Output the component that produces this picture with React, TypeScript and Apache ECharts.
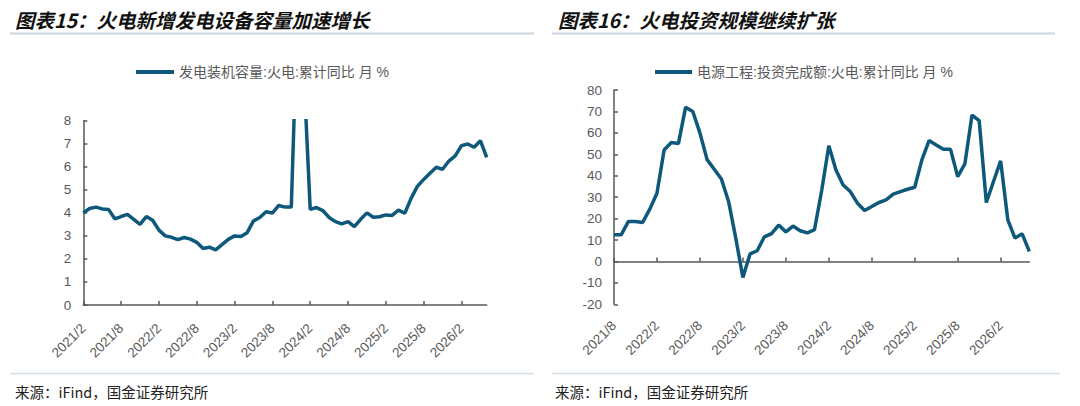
import React, { useEffect, useRef } from "react";
import * as echarts from "echarts";

const leftTitle = "图表15：火电新增发电设备容量加速增长";
const rightTitle = "图表16：火电投资规模继续扩张";
const sourceText = "来源：iFind，国金证券研究所";

const leftSeriesName = "发电装机容量:火电:累计同比 月 %";
const rightSeriesName = "电源工程:投资完成额:火电:累计同比 月 %";

const leftCategories: string[] = [
  "2021/2", "2021/3", "2021/4", "2021/5", "2021/6", "2021/7", "2021/8", "2021/9", "2021/10", "2021/11", "2021/12",
  "2022/1", "2022/2", "2022/3", "2022/4", "2022/5", "2022/6", "2022/7", "2022/8", "2022/9", "2022/10", "2022/11", "2022/12",
  "2023/1", "2023/2", "2023/3", "2023/4", "2023/5", "2023/6", "2023/7", "2023/8", "2023/9", "2023/10", "2023/11", "2023/12",
  "2024/1", "2024/2", "2024/3", "2024/4", "2024/5", "2024/6", "2024/7", "2024/8", "2024/9", "2024/10", "2024/11", "2024/12",
  "2025/1", "2025/2", "2025/3", "2025/4", "2025/5", "2025/6", "2025/7", "2025/8", "2025/9", "2025/10", "2025/11", "2025/12",
  "2026/1", "2026/2", "2026/3", "2026/4", "2026/5", "2026/6",
];

const leftValues: number[] = [
  4.0, 4.19, 4.25, 4.17, 4.15, 3.74, 3.84, 3.93, 3.72, 3.5,
  3.84, 3.68, 3.25, 3.0, 2.94, 2.84, 2.93, 2.86, 2.72, 2.45,
  2.51, 2.39, 2.62, 2.85, 3.0, 2.97, 3.14, 3.65, 3.8, 4.05,
  3.99, 4.32, 4.25, 4.25, 13, 10, 4.15, 4.23, 4.1, 3.8,
  3.62, 3.52, 3.62, 3.4, 3.72, 4.0, 3.81, 3.83, 3.91, 3.89,
  4.12, 3.98, 4.63, 5.15, 5.45, 5.72, 5.98, 5.89, 6.25, 6.47,
  6.92, 6.99, 6.85, 7.13, 6.41,
];

const rightCategories: string[] = [
  "2021/8", "2021/9", "2021/10", "2021/11", "2021/12",
  "2022/1", "2022/2", "2022/3", "2022/4", "2022/5", "2022/6", "2022/7", "2022/8", "2022/9", "2022/10", "2022/11", "2022/12",
  "2023/1", "2023/2", "2023/3", "2023/4", "2023/5", "2023/6", "2023/7", "2023/8", "2023/9", "2023/10", "2023/11", "2023/12",
  "2024/1", "2024/2", "2024/3", "2024/4", "2024/5", "2024/6", "2024/7", "2024/8", "2024/9", "2024/10", "2024/11", "2024/12",
  "2025/1", "2025/2", "2025/3", "2025/4", "2025/5", "2025/6", "2025/7", "2025/8", "2025/9", "2025/10", "2025/11", "2025/12",
  "2026/1", "2026/2", "2026/3", "2026/4", "2026/5", "2026/6",
];

const rightValues: number[] = [
  12.4, 12.4, 18.6, 18.6, 18.2, 24.4, 31.8, 52, 55.5, 55,
  72, 70, 60, 47.5, 43, 38.5, 28, 11, -7.5, 3.5,
  5, 11.5, 13, 17, 13.8, 16.5, 14.3, 13.3, 14.8, 33,
  54, 42.7, 35.7, 32.6, 27.2, 23.8, 25.6, 27.5, 28.7, 31.4,
  32.6, 33.7, 34.6, 47.4, 56.4, 54.3, 52.3, 52.3, 39.6, 45.5,
  68.3, 65.7, 27.5, 37.3, 46.9, 19.4, 10.9, 12.9, 4.7,
];

const LINE_COLOR = "#0d587b";
const AXIS_COLOR = "#595959";
const LABEL_COLOR = "#595959";
const FONT = "'Liberation Sans', 'Noto Sans CJK SC', sans-serif";
const CJK = "'Noto Sans CJK SC', sans-serif";

export default function App() {
  const ref = useRef<HTMLDivElement>(null);

  useEffect(() => {
    if (!ref.current) return;
    const chart = echarts.init(ref.current, undefined, { renderer: "svg" });

    const axisLabelStyle = { color: LABEL_COLOR, fontSize: 13.5, fontFamily: FONT };

    const option: any = {
      animation: false,
      backgroundColor: "#ffffff",
      textStyle: { fontFamily: FONT },
      grid: [
        { left: 83.3, top: 120.7, width: 403.4, height: 184.3, containLabel: false },
        { left: 614, top: 90, width: 415.3, height: 214.3, containLabel: false },
      ],
      legend: [
        {
          data: [leftSeriesName],
          left: 136,
          top: 65,
          padding: 0,
          icon: "rect",
          itemWidth: 38,
          itemHeight: 4,
          textStyle: { color: LABEL_COLOR, fontSize: 14, fontFamily: FONT },
        },
        {
          data: [rightSeriesName],
          left: 655,
          top: 65,
          padding: 0,
          icon: "rect",
          itemWidth: 37,
          itemHeight: 4,
          textStyle: { color: LABEL_COLOR, fontSize: 14, fontFamily: FONT },
        },
      ],
      xAxis: [
        {
          type: "category",
          gridIndex: 0,
          data: leftCategories,
          boundaryGap: false,
          axisLine: { show: true, lineStyle: { color: AXIS_COLOR, width: 1.5 } },
          axisTick: { show: true, inside: true, length: 4, interval: 5, lineStyle: { color: AXIS_COLOR, width: 1.5 } },
          axisLabel: { ...axisLabelStyle, interval: 5, rotate: 45, margin: 21 },
          splitLine: { show: false },
        },
        {
          type: "category",
          gridIndex: 1,
          data: rightCategories,
          boundaryGap: false,
          axisLine: { show: true, onZero: true, lineStyle: { color: AXIS_COLOR, width: 1.5 } },
          axisTick: { show: true, inside: true, length: 4, interval: 5, lineStyle: { color: AXIS_COLOR, width: 1.5 } },
          axisLabel: { ...axisLabelStyle, interval: 5, rotate: 45, margin: 19 },
          splitLine: { show: false },
        },
      ],
      yAxis: [
        {
          type: "value",
          gridIndex: 0,
          min: 0,
          max: 8,
          interval: 1,
          axisLine: { show: true, lineStyle: { color: AXIS_COLOR, width: 1.5 } },
          axisTick: { show: true, inside: true, length: 4, lineStyle: { color: AXIS_COLOR, width: 1.5 } },
          axisLabel: { ...axisLabelStyle, margin: 12 },
          splitLine: { show: false },
        },
        {
          type: "value",
          gridIndex: 1,
          min: -20,
          max: 80,
          interval: 10,
          axisLine: { show: true, lineStyle: { color: AXIS_COLOR, width: 1.5 } },
          axisTick: { show: true, inside: true, length: 4, lineStyle: { color: AXIS_COLOR, width: 1.5 } },
          axisLabel: { ...axisLabelStyle, margin: 12 },
          splitLine: { show: false },
        },
      ],
      series: [
        {
          name: leftSeriesName,
          type: "line",
          xAxisIndex: 0,
          yAxisIndex: 0,
          data: leftValues,
          showSymbol: false,
          symbol: "none",
          clip: true,
          color: LINE_COLOR,
          lineStyle: { color: LINE_COLOR, width: 3.5 },
        },
        {
          name: rightSeriesName,
          type: "line",
          xAxisIndex: 1,
          yAxisIndex: 1,
          data: rightValues,
          showSymbol: false,
          symbol: "none",
          clip: true,
          color: LINE_COLOR,
          lineStyle: { color: LINE_COLOR, width: 3.5 },
        },
      ],
      graphic: [
        {
          type: "text",
          left: 15,
          top: 10,
          style: { text: leftTitle, fontSize: 19.5, fontWeight: "bold", fontStyle: "italic", fontFamily: CJK, fill: "#111111" },
        },
        {
          type: "text",
          left: 558,
          top: 10,
          style: { text: rightTitle, fontSize: 19.5, fontWeight: "bold", fontStyle: "italic", fontFamily: CJK, fill: "#111111" },
        },
        {
          type: "line",
          shape: { x1: 10, y1: 33.5, x2: 534, y2: 33.5 },
          style: { stroke: "#c9d6e2", lineWidth: 2 },
        },
        {
          type: "line",
          shape: { x1: 552, y1: 33.5, x2: 1055, y2: 33.5 },
          style: { stroke: "#c9d6e2", lineWidth: 2 },
        },
        {
          type: "line",
          shape: { x1: 10, y1: 373.5, x2: 534, y2: 373.5 },
          style: { stroke: "#d3e0e6", lineWidth: 1.5 },
        },
        {
          type: "line",
          shape: { x1: 552, y1: 373.5, x2: 1060, y2: 373.5 },
          style: { stroke: "#d3e0e6", lineWidth: 1.5 },
        },
        {
          type: "text",
          left: 15,
          top: 384,
          style: { text: sourceText, fontSize: 14.5, fontFamily: CJK, fill: "#222222" },
        },
        {
          type: "text",
          left: 555,
          top: 384,
          style: { text: sourceText, fontSize: 14.5, fontFamily: CJK, fill: "#222222" },
        },
      ],
    };

    chart.setOption(option);
    return () => {
      chart.dispose();
    };
  }, []);

  return (
    <div
      ref={ref}
      style={{ position: "absolute", left: 0, top: 0, width: 1080, height: 406, background: "#ffffff" }}
    />
  );
}
